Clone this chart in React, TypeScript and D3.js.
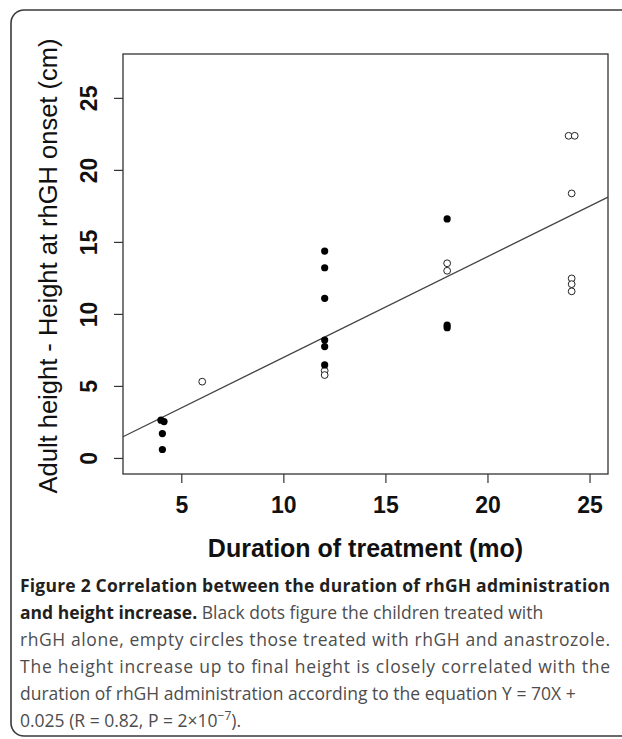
import * as d3 from "d3";

const W = 622;
const H = 739;
const PLOT = { left: 123, right: 608, top: 54, bottom: 474 };

const X_DOMAIN = [2.12, 25.88];
const Y_DOMAIN = [-1.08, 28.08];
const X_TICKS = [5, 10, 15, 20, 25];
const Y_TICKS = [0, 5, 10, 15, 20, 25];

// children treated with rhGH alone (black dots)
const rhghAlone = [
  { x: 3.98, y: 2.66 }, { x: 4.13, y: 2.56 }, { x: 4.05, y: 1.73 }, { x: 4.05, y: 0.62 },
  { x: 12, y: 14.4 }, { x: 12, y: 13.24 }, { x: 12, y: 11.12 }, { x: 12, y: 8.22 },
  { x: 12, y: 7.77 }, { x: 12, y: 6.49 },
  { x: 18, y: 16.63 }, { x: 18, y: 9.25 }, { x: 18, y: 9.08 },
];

// children treated with rhGH + anastrozole (empty circles)
const rhghAnastrozole = [
  { x: 6, y: 5.33 }, { x: 12, y: 6.09 }, { x: 12, y: 5.79 },
  { x: 18, y: 13.55 }, { x: 18, y: 13.03 },
  { x: 23.95, y: 22.4 }, { x: 24.25, y: 22.4 }, { x: 24.1, y: 18.4 },
  { x: 24.1, y: 12.5 }, { x: 24.1, y: 12.1 }, { x: 24.1, y: 11.6 },
];

const FIT = { slope: 0.7, intercept: 0.025 };

const CAPTION_FONT = "'Open Sans', 'Noto Sans', sans-serif";
const PLOT_FONT = "'Liberation Sans', Arial, sans-serif";

export default function App() {
  const x = d3.scaleLinear().domain(X_DOMAIN).range([PLOT.left, PLOT.right]);
  const y = d3.scaleLinear().domain(Y_DOMAIN).range([PLOT.bottom, PLOT.top]);

  const fitLine = d3
    .line<number>()
    .x((d) => x(d))
    .y((d) => y(FIT.slope * d + FIT.intercept))(X_DOMAIN) || "";

  const axisColor = "#333";
  const body = "#4d4d4d";
  const ink = "#231f20";

  return (
    <>
      <style>{`body{margin:0}`}</style>
      <svg width={W} height={H} viewBox={`0 0 ${W} ${H}`} style={{ display: "block", background: "#fff" }}>
        <rect x={11} y={10} width={640} height={726} rx={13} fill="none" stroke="#3a3a3a" strokeWidth={1.6} />

        {/* plot box */}
        <rect
          x={PLOT.left}
          y={PLOT.top}
          width={PLOT.right - PLOT.left}
          height={PLOT.bottom - PLOT.top}
          fill="none"
          stroke={axisColor}
          strokeWidth={1.3}
        />

        {X_TICKS.map((t) => (
          <g key={`xt-${t}`}>
            <line x1={x(t)} x2={x(t)} y1={PLOT.bottom} y2={PLOT.bottom + 9} stroke={axisColor} strokeWidth={1.2} />
            <text x={x(t)} y={PLOT.bottom + 39} textAnchor="middle" fontFamily={PLOT_FONT} fontWeight="bold" fontSize={23} fill="#111">
              {t}
            </text>
          </g>
        ))}

        {Y_TICKS.map((t) => (
          <g key={`yt-${t}`}>
            <line x1={PLOT.left - 9} x2={PLOT.left} y1={y(t)} y2={y(t)} stroke={axisColor} strokeWidth={1.2} />
            <text
              transform={`translate(${PLOT.left - 26} ${y(t)}) rotate(-90)`}
              textAnchor="middle"
              fontFamily={PLOT_FONT}
              fontWeight="bold"
              fontSize={23}
              fill="#111"
            >
              {t}
            </text>
          </g>
        ))}

        <text x={(PLOT.left + PLOT.right) / 2} y={557} textAnchor="middle" fontFamily={PLOT_FONT} fontWeight="bold" fontSize={25} fill="#111">
          Duration of treatment (mo)
        </text>
        <text
          transform={`translate(57 ${(PLOT.top + PLOT.bottom) / 2 + 2}) rotate(-90)`}
          textAnchor="middle"
          fontFamily={PLOT_FONT}
          fontSize={25.5}
          fill="#111"
        >
          Adult height - Height at rhGH onset (cm)
        </text>

        <path d={fitLine} fill="none" stroke="#444" strokeWidth={1.3} />

        {rhghAnastrozole.map((d, i) => (
          <circle key={`o-${i}`} cx={x(d.x)} cy={y(d.y)} r={3.4} fill="#fff" stroke="#222" strokeWidth={1} />
        ))}
        {rhghAlone.map((d, i) => (
          <circle key={`f-${i}`} cx={x(d.x)} cy={y(d.y)} r={3.6} fill="#000" />
        ))}

        <g fontFamily={CAPTION_FONT} fontSize={17.5}>
          <text x={20} y={592} fontWeight="bold" fill={ink} textLength={590}>
            Figure 2 Correlation between the duration of rhGH administration
          </text>
          <text x={20} y={619} fill={body}>
            <tspan fontWeight="bold" fill={ink}>and height increase.</tspan> Black dots figure the children treated with
          </text>
          <text x={20} y={646} fill={body} textLength={590}>
            rhGH alone, empty circles those treated with rhGH and anastrozole.
          </text>
          <text x={20} y={673} fill={body} textLength={590}>
            The height increase up to final height is closely correlated with the
          </text>
          <text x={20} y={700} fill={body}>
            duration of rhGH administration according to the equation Y = 70X +
          </text>
          <text x={20} y={727} fill={body}>
            0.025 (R = 0.82, P = 2×10<tspan dy={-7} fontSize={12}>−7</tspan><tspan dy={7}>).</tspan>
          </text>
        </g>
      </svg>
    </>
  );
}
